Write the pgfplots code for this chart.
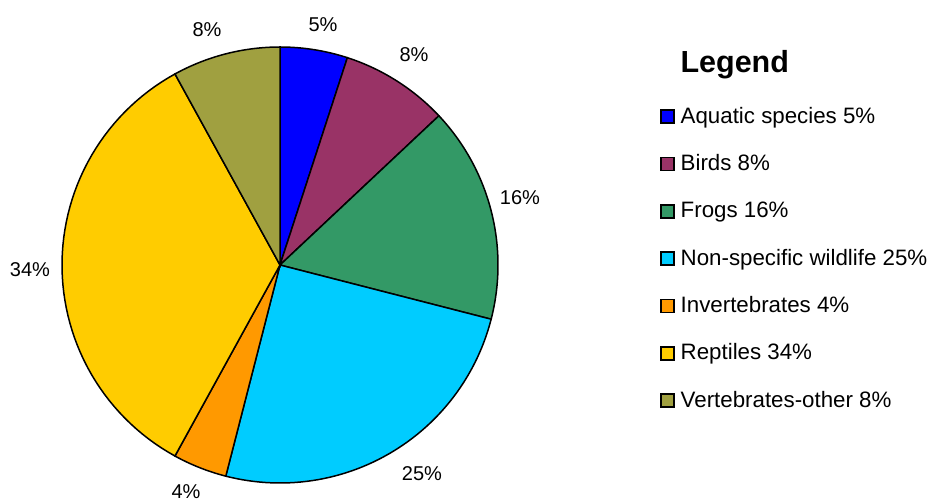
\documentclass[border=0pt]{standalone}
\usepackage{fontspec}
\setmainfont{Liberation Sans}
\usepackage{pgfplots}
\pgfplotsset{compat=1.18}

\definecolor{aquatic}{HTML}{0000FF}
\definecolor{birds}{HTML}{993366}
\definecolor{frogs}{HTML}{339966}
\definecolor{nonspec}{HTML}{00CCFF}
\definecolor{invert}{HTML}{FF9900}
\definecolor{reptiles}{HTML}{FFCC00}
\definecolor{vertoth}{HTML}{A0A040}

% one unit = one pixel of the reference; pie centre (280,236), radius 218
\pgfplotsset{
  slice/.style={fill=#1, draw=black, line width=1.5pt, samples=60},
}

\begin{document}
\begin{tikzpicture}
\begin{axis}[
    width=933pt, height=501pt, scale only axis,
    xmin=0, xmax=933, ymin=0, ymax=501,
    hide axis, clip=false,
    legend image code/.code={\draw[#1, draw=black, line width=1.5pt] (0pt,-6.5pt) rectangle (13pt,6.5pt);},
    legend cell align=left,
    legend style={
        at={(axis cs:660,394)}, anchor=north west,
        draw=none, fill=none, inner sep=0pt,
        row sep=28.33pt,
        nodes={inner sep=0pt, text height=16pt, text depth=3pt,
               font=\fontsize{22.3}{26}\selectfont},
        /tikz/every odd column/.append style={column sep=6pt},
    },
]
% slices, clockwise from the top: 5, 8, 16, 25, 4, 34, 8 percent
\addplot[slice=aquatic, domain=72:90]
    ({280+218*cos(x)}, {236+218*sin(x)}) -- (axis cs:280,236) -- cycle;
\addlegendentry{Aquatic species 5\%}
\addplot[slice=birds, domain=43.2:72]
    ({280+218*cos(x)}, {236+218*sin(x)}) -- (axis cs:280,236) -- cycle;
\addlegendentry{Birds 8\%}
\addplot[slice=frogs, domain=-14.4:43.2]
    ({280+218*cos(x)}, {236+218*sin(x)}) -- (axis cs:280,236) -- cycle;
\addlegendentry{Frogs 16\%}
\addplot[slice=nonspec, domain=-104.4:-14.4]
    ({280+218*cos(x)}, {236+218*sin(x)}) -- (axis cs:280,236) -- cycle;
\addlegendentry{Non-specific wildlife 25\%}
\addplot[slice=invert, domain=-118.8:-104.4]
    ({280+218*cos(x)}, {236+218*sin(x)}) -- (axis cs:280,236) -- cycle;
\addlegendentry{Invertebrates 4\%}
\addplot[slice=reptiles, domain=-241.2:-118.8]
    ({280+218*cos(x)}, {236+218*sin(x)}) -- (axis cs:280,236) -- cycle;
\addlegendentry{Reptiles 34\%}
\addplot[slice=vertoth, domain=-270:-241.2]
    ({280+218*cos(x)}, {236+218*sin(x)}) -- (axis cs:280,236) -- cycle;
\addlegendentry{Vertebrates-other 8\%}

% percentage labels
\begin{scope}[every node/.style={font=\fontsize{20}{24}\selectfont}]
\node at (axis cs:323,476) {5\%};
\node at (axis cs:414,446) {8\%};
\node at (axis cs:520,303) {16\%};
\node at (axis cs:422,27) {25\%};
\node at (axis cs:186,9.5) {4\%};
\node at (axis cs:30,231) {34\%};
\node at (axis cs:207,471) {8\%};
\end{scope}

\node[anchor=base west, font=\bfseries\fontsize{30.5}{36}\selectfont]
    at (axis cs:677,428) {Legend};
\end{axis}
\pgfresetboundingbox
\useasboundingbox (0,0) rectangle (933pt,501pt);
\end{tikzpicture}
\end{document}
